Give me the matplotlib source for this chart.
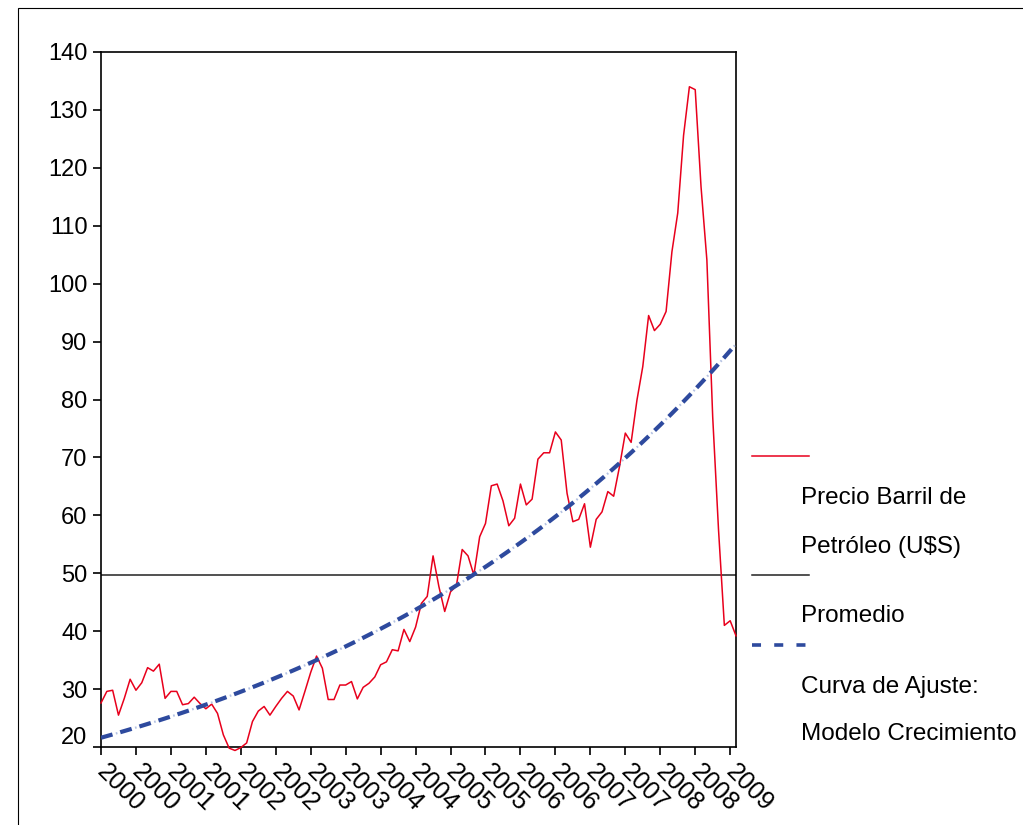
import numpy as np
import matplotlib
matplotlib.use("Agg")
import matplotlib.pyplot as plt
from matplotlib.lines import Line2D
from matplotlib.patches import Rectangle
from matplotlib.transforms import ScaledTranslation

plt.rcParams['font.family'] = ['Liberation Sans', 'DejaVu Sans']
plt.rcParams['lines.scale_dashes'] = False

# Monthly oil barrel price (US$), Jan 2000 - Feb 2009
price = [
    27.6, 29.6, 29.8, 25.5, 28.4, 31.7, 29.8, 31.1, 33.7, 33.1,
    34.3, 28.4, 29.6, 29.6, 27.3, 27.5, 28.6, 27.5, 26.6, 27.4,
    25.8, 22.1, 19.8, 19.4, 19.9, 20.7, 24.4, 26.2, 27.0, 25.5,
    27.0, 28.4, 29.6, 28.8, 26.4, 29.6, 32.9, 35.7, 33.6, 28.2,
    28.2, 30.7, 30.7, 31.3, 28.3, 30.3, 31.0, 32.1, 34.2, 34.7,
    36.8, 36.6, 40.3, 38.2, 40.7, 44.8, 46.0, 53.0, 47.7, 43.4,
    46.8, 47.8, 54.1, 53.0, 49.7, 56.3, 58.6, 65.1, 65.4, 62.5,
    58.2, 59.5, 65.4, 61.8, 62.8, 69.7, 70.8, 70.8, 74.4, 73.0,
    63.8, 58.9, 59.3, 62.0, 54.5, 59.3, 60.6, 64.1, 63.3, 68.4,
    74.2, 72.6, 79.9, 85.7, 94.5, 91.9, 93.0, 95.2, 105.5, 112.2,
    125.6, 134.0, 133.5, 116.7, 104.1, 77.0, 57.5, 41.0, 41.8, 39.2,
]

# Growth model coefficients: price = a * exp(b * t)
growth_a = 21.6
growth_b = 0.01305

tick_labels = ["2000", "2000", "2001", "2001", "2002", "2002", "2003", "2003",
               "2004", "2004", "2005", "2005", "2006", "2006", "2007", "2007",
               "2008", "2008", "2009"]
y_ticks = [20, 30, 40, 50, 60, 70, 80, 90, 100, 110, 120, 130, 140]

t = np.arange(len(price))
price_arr = np.array(price)
mean_price = price_arr.mean()
fit = growth_a * np.exp(growth_b * t)

W, H = 1023, 825
fig = plt.figure(figsize=(W / 100, H / 100), dpi=100)
fig.patch.set_facecolor("white")

# outer frame (left and top edges visible)
fig.add_artist(Rectangle((18 / W, -0.1), 1.2, 1.1 - 8 / H,
                         transform=fig.transFigure, fill=False,
                         edgecolor="black", linewidth=0.8, clip_on=False))

ax = fig.add_axes([101 / W, (H - 747) / H, (736 - 101) / W, (747 - 52) / H])

ax.plot(t, price_arr, color="#E8001C", linewidth=1.1, zorder=3, clip_on=False)
ax.axhline(mean_price, color="#222222", linewidth=1.1, zorder=2)
ax.plot(t, fit, color="#B4C2E2", linewidth=1.6, linestyle=(3.3, (1.2, 13.2)),
        zorder=4, dash_capstyle="butt")
ax.plot(t, fit, color="#2E4A9E", linewidth=3.0, linestyle=(0, (8.6, 5.8)),
        zorder=4, dash_capstyle="butt")

ax.set_xlim(0, len(price) - 1)
ax.set_ylim(20, 140)
ax.set_yticks(y_ticks)
ax.set_xticks(np.arange(0, len(price), 6))
ax.set_xticklabels(tick_labels, rotation=-45, ha="left", va="top",
                   rotation_mode="anchor", fontsize=18)

for s in ax.spines.values():
    s.set_linewidth(1.2)
    s.set_color("black")

ax.tick_params(axis="both", direction="out", length=5.8, width=1.2,
               colors="black")
ax.tick_params(axis="y", pad=4, labelsize=17)
ax.tick_params(axis="x", pad=3)

for lbl in ax.get_xticklabels():
    lbl.set_transform(lbl.get_transform() + ScaledTranslation(8 / 100, 0, fig.dpi_scale_trans))

ylabels = ax.get_yticklabels()
ylabels[0].set_transform(ylabels[0].get_transform() + ScaledTranslation(0, 12 / 100, fig.dpi_scale_trans))

# legend drawn alongside the plot
def fx(px):
    return px / W

def fy(py):
    return 1 - py / H

fig.add_artist(Line2D([fx(752), fx(809)], [fy(456), fy(456)], color="#E8001C",
                      linewidth=1.1, transform=fig.transFigure))
fig.add_artist(Line2D([fx(752), fx(809)], [fy(574.5), fy(574.5)], color="#222222",
                      linewidth=1.1, transform=fig.transFigure))
fig.add_artist(Line2D([fx(752), fx(809)], [fy(645), fy(645)], color="#2E4A9E",
                      linewidth=2.6, linestyle=(0, (6.5, 9.5)),
                      dash_capstyle="butt", transform=fig.transFigure))

legend_text = [
    ("Precio Barril de", 498),
    ("Petróleo (U$S)", 547),
    ("Promedio", 616),
    ("Curva de Ajuste:", 687),
    ("Modelo Crecimiento", 734),
]
for txt, py in legend_text:
    fig.text(fx(801), fy(py), txt, fontsize=17.5, ha="left", va="center",
             color="black")

fig.savefig("out.png", dpi=100, facecolor="white")
